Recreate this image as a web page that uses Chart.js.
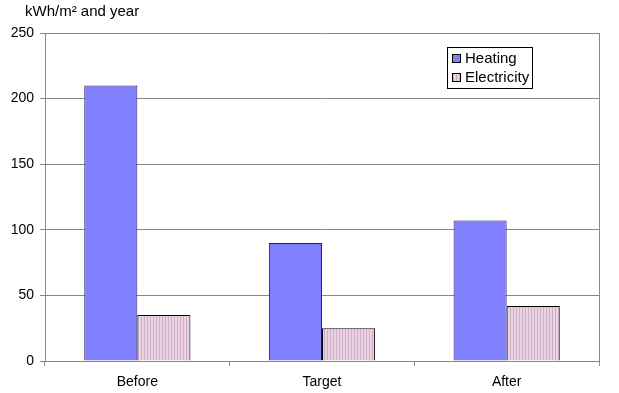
<!DOCTYPE html>
<html>
<head>
<meta charset="utf-8">
<script src="https://cdn.jsdelivr.net/npm/chart.js@4/dist/chart.umd.min.js"></script>
<style>
  html, body { margin: 0; padding: 0; background: #fff; }
  #wrap { width: 619px; height: 393px; }
</style>
</head>
<body>
<div id="wrap"><canvas id="chart" width="619" height="393"></canvas></div>
<script>
const categories = ['Before', 'Target', 'After'];
const heating = [210, 90, 107];
const electricity = [35, 25, 42];
const yTicks = [0, 50, 100, 150, 200, 250];
const unitLabel = 'kWh/m\u00b2 and year';

const font = { family: '"Liberation Sans", Arial, sans-serif', size: 14 };

// pink striped fill for the electricity bars
function stripes() {
    const c = document.createElement('canvas');
    c.width = 3; c.height = 3;
    const g = c.getContext('2d');
    g.fillStyle = '#ead3e3';
    g.fillRect(0, 0, 3, 3);
    g.fillStyle = '#cdaec6';
    g.fillRect(0, 0, 1, 3);
    return g.createPattern(c, 'repeat');
}

const frame = {
    id: 'frame',
    afterDraw(chart) {
        const ctx = chart.ctx;
        const a = chart.chartArea;
        ctx.save();
        // right border
        ctx.strokeStyle = '#888';
        ctx.lineWidth = 1;
        ctx.beginPath();
        ctx.moveTo(Math.round(a.right) + 0.5, a.top);
        ctx.lineTo(Math.round(a.right) + 0.5, a.bottom);
        ctx.stroke();

        // unit label
        ctx.fillStyle = '#000';
        ctx.font = '15px "Liberation Sans", Arial, sans-serif';
        ctx.textBaseline = 'middle';
        ctx.textAlign = 'left';
        ctx.fillText(unitLabel, 25, 12);

        // legend box
        const lx = 447, ly = 47, lw = 85, lh = 41;
        ctx.fillStyle = '#fff';
        ctx.fillRect(lx, ly, lw, lh);
        ctx.strokeStyle = '#000';
        ctx.strokeRect(lx + 0.5, ly + 0.5, lw, lh);
        const items = chart.data.datasets;
        items.forEach((ds, i) => {
            const y = ly + 12 + i * 19;
            ctx.fillStyle = ds.backgroundColor;
            ctx.fillRect(452, y - 4, 8, 8);
            ctx.strokeStyle = '#000';
            ctx.strokeRect(452.5, y - 4.5, 8, 8);
            ctx.fillStyle = '#000';
            ctx.fillText(ds.label, 465, y);
        });
        ctx.restore();
    }
};

new Chart(document.getElementById('chart'), {
    type: 'bar',
    data: {
        labels: categories,
        datasets: [
            {
                label: 'Heating',
                data: heating,
                backgroundColor: '#8080ff',
                borderColor: '#202060',
                borderWidth: 1
            },
            {
                label: 'Electricity',
                data: electricity,
                backgroundColor: stripes(),
                borderColor: '#000',
                borderWidth: 1
            }
        ]
    },
    options: {
        responsive: false,
        animation: false,
        devicePixelRatio: 1,
        layout: { padding: { top: 33, right: 20, left: 0, bottom: 0 } },
        categoryPercentage: 0.575,
        barPercentage: 1,
        plugins: {
            legend: { display: false },
            tooltip: { enabled: false }
        },
        scales: {
            x: {
                grid: { offset: true, drawOnChartArea: false, tickLength: 5, color: '#888' },
                border: { color: '#888' },
                ticks: { color: '#000', font: font, padding: 8 },
                afterFit(s) { s.height = 32; }
            },
            y: {
                min: 0,
                max: 250,
                afterBuildTicks(s) { s.ticks = yTicks.map(v => ({ value: v })); },
                grid: { color: '#888', tickLength: 5 },
                border: { color: '#888' },
                ticks: { color: '#000', font: font, padding: 6 },
                afterFit(s) { s.width = 45; }
            }
        }
    },
    plugins: [frame]
});
</script>
</body>
</html>
